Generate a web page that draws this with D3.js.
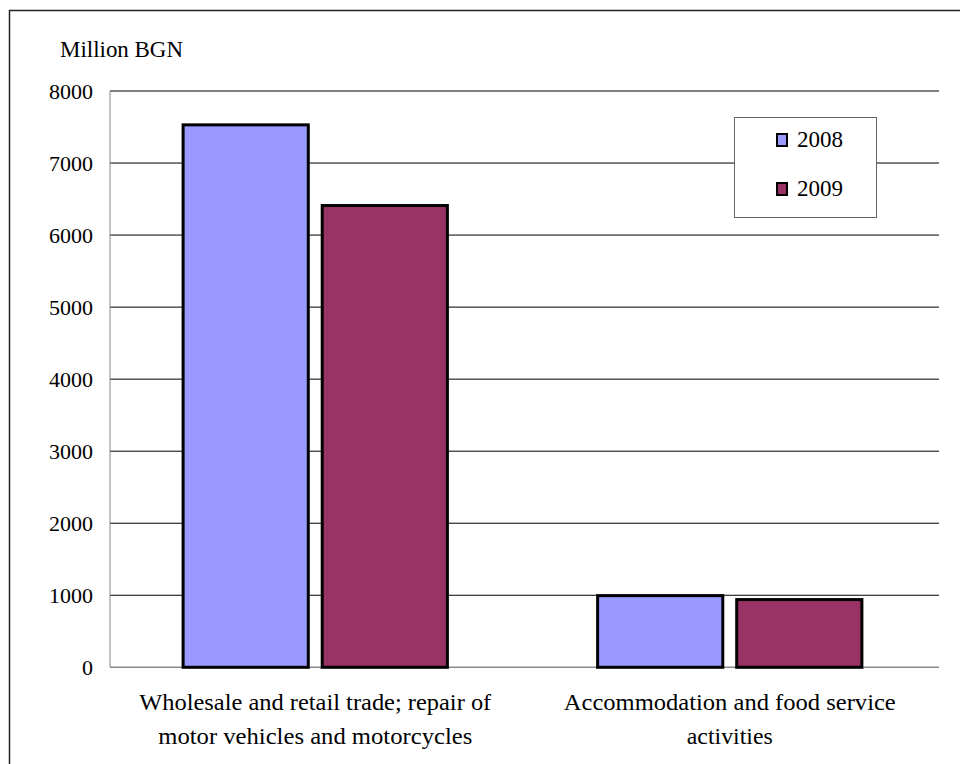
<!DOCTYPE html>
<html><head><meta charset="utf-8">
<script src="https://cdn.jsdelivr.net/npm/d3@7"></script>
<style>html,body{margin:0;padding:0;background:#fff;overflow:hidden}
text{font-family:"Liberation Serif","Times New Roman",Times,"DejaVu Serif",serif}</style>
</head><body>
<svg id="c" width="960" height="764"></svg>
<script>
const categories = [
  ["Wholesale and retail trade; repair of", "motor vehicles and motorcycles"],
  ["Accommodation and food service", "activities"]
];
const categoryKeys = ["Wholesale", "Accommodation"];
const seriesNames = ["2008", "2009"];
const values2008 = [7530, 995];
const values2009 = [6410, 940];
const seriesColors = ["#9999FF", "#993366"];
const yTicks = [0, 1000, 2000, 3000, 4000, 5000, 6000, 7000, 8000];
const yLabel = "Million BGN";

(function () {
const svg = d3.select("#c");

svg.append("rect").attr("x", 9.5).attr("y", 10.5).attr("width", 980).attr("height", 800)
  .attr("fill", "#fff").attr("stroke", "#222").attr("stroke-width", 1.5);

const pLeft = 110, pRight = 939, pTop = 91, pBottom = 667.3;
const y = d3.scaleLinear().domain([0, 8000]).range([pBottom, pTop]);
const x0 = d3.scaleBand().domain(categoryKeys).range([pLeft, pRight]).padding(0);
const x1 = d3.scaleBand().domain(seriesNames).range([-2, x0.bandwidth() - 2])
  .paddingInner(0.1).paddingOuter(0.54);

svg.append("g").selectAll("line").data(yTicks.filter(d => d > 0)).join("line")
  .attr("x1", pLeft).attr("x2", pRight)
  .attr("y1", d => y(d)).attr("y2", d => y(d))
  .attr("stroke", "#000").attr("stroke-width", 1);

svg.append("line").attr("x1", pLeft).attr("x2", pLeft).attr("y1", pTop).attr("y2", pBottom)
  .attr("stroke", "#888").attr("stroke-width", 1);
svg.append("line").attr("x1", pLeft).attr("x2", pRight).attr("y1", pBottom).attr("y2", pBottom)
  .attr("stroke", "#888").attr("stroke-width", 1.5);

svg.append("g").selectAll("text").data(yTicks).join("text")
  .attr("x", 93).attr("y", d => y(d)).attr("dy", "0.36em")
  .attr("text-anchor", "end").attr("font-size", 22)
  .attr("fill", "#000").text(d => d);

svg.append("text").attr("x", 60).attr("y", 56.5)
  .attr("font-size", 24).attr("textLength", 123).attr("lengthAdjust", "spacingAndGlyphs")
  .text(yLabel);

const rows = categoryKeys.map((k, i) => ({ key: k, vals: [values2008[i], values2009[i]] }));
const g = svg.append("g").selectAll("g").data(rows).join("g")
  .attr("transform", d => `translate(${x0(d.key)},0)`);
g.selectAll("rect").data(d => d.vals.map((v, j) => ({ s: seriesNames[j], v, j }))).join("rect")
  .attr("x", d => x1(d.s)).attr("width", x1.bandwidth())
  .attr("y", d => y(d.v)).attr("height", d => y(0) - y(d.v))
  .attr("fill", d => seriesColors[d.j]).attr("stroke", "#000").attr("stroke-width", 3);

const lineBase = [710, 744];
const lineLens = [[352, 314], [332, 86]];
categoryKeys.forEach((k, i) => {
  categories[i].forEach((line, li) => {
    svg.append("text").attr("x", x0(k) + x0.bandwidth() / 2 - 2).attr("y", lineBase[li])
      .attr("text-anchor", "middle").attr("font-size", 24)
      .attr("textLength", lineLens[i][li]).attr("lengthAdjust", "spacingAndGlyphs")
      .text(line);
  });
});

const lg = svg.append("g");
lg.append("rect").attr("x", 734.5).attr("y", 117.5).attr("width", 142).attr("height", 100)
  .attr("fill", "#fff").attr("stroke", "#666").attr("stroke-width", 1);
seriesNames.forEach((s, i) => {
  const cy = 140 + i * 49;
  lg.append("rect").attr("x", 777).attr("y", cy - 6).attr("width", 10).attr("height", 12)
    .attr("fill", seriesColors[i]).attr("stroke", "#000").attr("stroke-width", 2);
  lg.append("text").attr("x", 797).attr("y", cy + 7)
    .attr("font-size", 24).attr("textLength", 46).attr("lengthAdjust", "spacingAndGlyphs")
    .text(s);
});
})();
</script>
</body></html>
